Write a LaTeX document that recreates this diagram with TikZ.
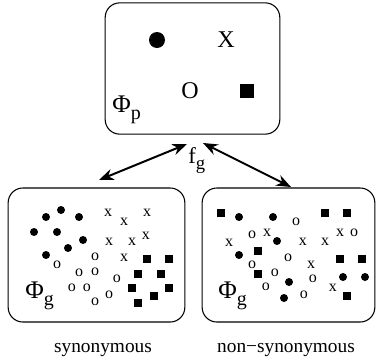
\documentclass[tikz,border=0pt]{standalone}
\usepackage{fontspec}
\setmainfont{Liberation Serif}
\usetikzlibrary{arrows.meta}
\newcommand{\spacelabel}[1]{{\fontsize{19}{19}\selectfont Φ\raisebox{-0.3em}{\fontsize{15}{15}\selectfont #1}}}

\begin{document}
\begin{tikzpicture}[x=0.75pt,y=-0.75pt,
    gdot/.style={circle,fill,inner sep=0pt,minimum size=6pt},
    gsq/.style={fill,inner sep=0pt,minimum size=6pt},
    gsym/.style={inner sep=0pt,font=\fontsize{12}{12}\selectfont}]
  \useasboundingbox (0,0) rectangle (376,361);

  \begin{scope}[every node/.style={draw,line width=0.8pt,rounded corners=11pt,inner sep=0pt}]
    \node[minimum width=131pt,minimum height=98.5pt] (pheno) at (192.5,68.5) {};
    \node[minimum width=132.5pt,minimum height=100.5pt] (syn) at (96.5,255) {};
    \node[minimum width=129.5pt,minimum height=100.5pt] (nonsyn) at (288.5,255) {};
  \end{scope}

  % phenotype space
  \begin{scope}[every node/.style={inner sep=0pt}]
    \node[circle,fill,minimum size=12pt] (pdot) at (157,40) {};
    \node[font=\fontsize{18}{18}\selectfont] (px) at (226,40) {X};
    \node[font=\fontsize{18}{18}\selectfont] (po) at (190,91) {O};
    \node[fill,minimum size=11pt] (psq) at (247,91) {};
    \node[anchor=base west] (plbl) at (112,112) {\spacelabel{p}};
  \end{scope}

  % synonymous
  \foreach \x/\y [count=\i] in {61/210,46/217,79/217,34/232,57/232,83/240,68/248,46/255}
    \node[gdot] (sdot\i) at (\x,\y) {};
  \foreach \x/\y [count=\i] in {108/213,124/222,147/213,146/236,109/242,132/242,124/258}
    \node[gsym] (sx\i) at (\x,\y) {x};
  \foreach \x/\y [count=\i] in {57/265,95/257,79/273,95/272,117/279,72/288,87/288,95/302,109/295}
    \node[gsym] (so\i) at (\x,\y) {o};
  \foreach \x/\y [count=\i] in {147/259,169/259,138/274,161/274,132/288,169/288,154/296,138/303}
    \node[gsq] (ssq\i) at (\x,\y) {};
  \node[anchor=base west,inner sep=0pt] (slbl) at (25,298) {\spacelabel{g}};

  % non-synonymous
  \foreach \x/\y [count=\i] in {239/217,273/217,277/241,239/255,289/282,343/277,365/277,284/298}
    \node[gdot] (ndot\i) at (\x,\y) {};
  \foreach \x/\y [count=\i] in {229/243,267/233,303/242,325/242,340/233,311/265,333/288}
    \node[gsym] (nx\i) at (\x,\y) {x};
  \foreach \x/\y [count=\i] in {296/222,252/235,354/233,288/258,252/265,275/273,313/279,266/287,304/295}
    \node[gsym] (no\i) at (\x,\y) {o};
  \foreach \x/\y [count=\i] in {221/213,325/213,347/213,258/251,258/274,340/259,362/259,347/296}
    \node[gsq] (nsq\i) at (\x,\y) {};
  \node[anchor=base west,inner sep=0pt] (nlbl) at (218,298) {\spacelabel{g}};

  % genotype-phenotype mapping
  \coordinate (la) at (99,180);
  \coordinate (lb) at (187,144);
  \coordinate (ra) at (203,143);
  \coordinate (rb) at (291,187);
  \begin{scope}[line width=1.5pt,{Stealth[length=11pt,width=8.5pt]}-{Stealth[length=11pt,width=8.5pt]}]
    \draw (la) -- (lb);
    \draw (ra) -- (rb);
  \end{scope}
  \node[anchor=base west,inner sep=0pt] (fg) at (188,163)
    {\fontsize{17}{17}\selectfont f\raisebox{-0.3em}{\fontsize{14}{14}\selectfont g}};

  \node[anchor=base,inner sep=0pt,font=\fontsize{14.5}{14.5}\selectfont] (syncap) at (103,352) {synonymous};
  \node[anchor=base,inner sep=0pt,font=\fontsize{14.5}{14.5}\selectfont] (nsyncap) at (286,352) {non−synonymous};
\end{tikzpicture}
\end{document}
